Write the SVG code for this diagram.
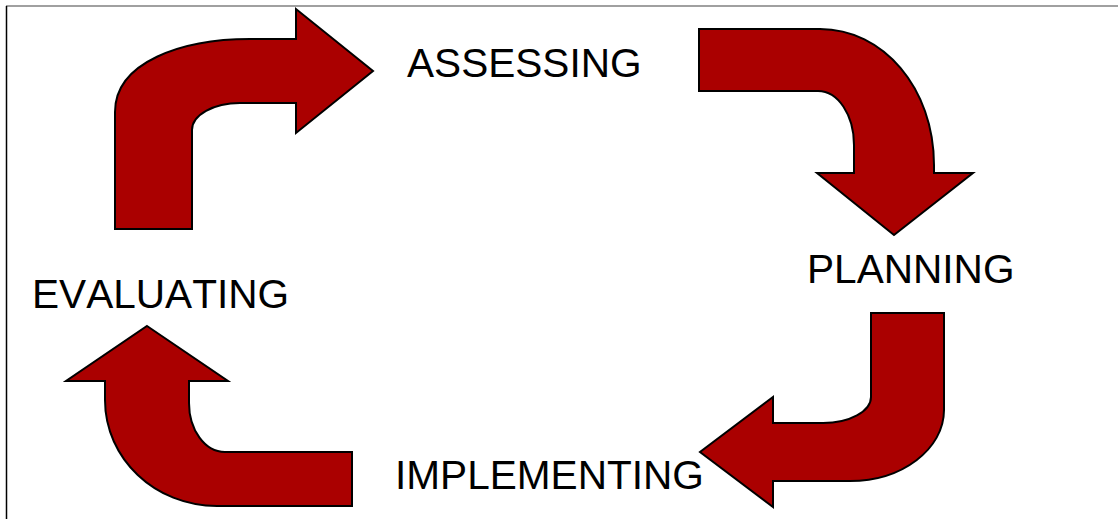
<svg xmlns="http://www.w3.org/2000/svg" width="1118" height="519" viewBox="0 0 1118 519">
<style>
.arr{fill:#AA0000;stroke:#000;stroke-width:2;stroke-linejoin:miter}
.lbl{font-family:"Liberation Sans",Arial,sans-serif;font-size:40.6px;font-kerning:none;fill:#000}
</style>
<rect width="1118" height="519" fill="#fff"/>
<line x1="6" y1="6" x2="1118" y2="6" stroke="#808080" stroke-width="1.5"/>
<line x1="6.5" y1="6" x2="6.5" y2="519" stroke="#000" stroke-width="1.5"/>
<g id="connectors">
<path id="arrow-eval-assess" class="arr" d="M115,229 L115,112 C115,62 182,39 250,39 L296,39 L296,9 L373,71 L296,133 L296,103 L240,103 C213.5,103 192,115 192,130 L192,229 Z"/>
<path id="arrow-assess-plan" class="arr" d="M699,29 L820,29 C883,29 934,88 934,165 L934,173 L973,173 L894,235 L817,173 L854,173 L854,145 C854,115 838,91 818,91 L699,91 Z"/>
<path id="arrow-plan-impl" class="arr" d="M871,313 L944,313 L944,410 C944,449.2 901.9,481 850,481 L773,481 L773,507 L700,452 L773,397 L773,423 L823,423 C849.5,423 871,411.4 871,397 Z"/>
<path id="arrow-impl-eval" class="arr" d="M147,326 L228,381 L189,381 L189,403 C189,430 205,452 225,452 L352,452 L352,506 L217,506 C155,506 105,458.5 105,400 L105,381 L66,381 Z"/>
</g>
<g id="node-assessing"><text class="lbl" x="407" y="77">ASSESSING</text></g>
<g id="node-planning"><text class="lbl" x="807" y="283">PLANNING</text></g>
<g id="node-evaluating"><text class="lbl" x="32" y="308">EVALUATING</text></g>
<g id="node-implementing"><text class="lbl" x="395" y="489">IMPLEMENTING</text></g>
</svg>
